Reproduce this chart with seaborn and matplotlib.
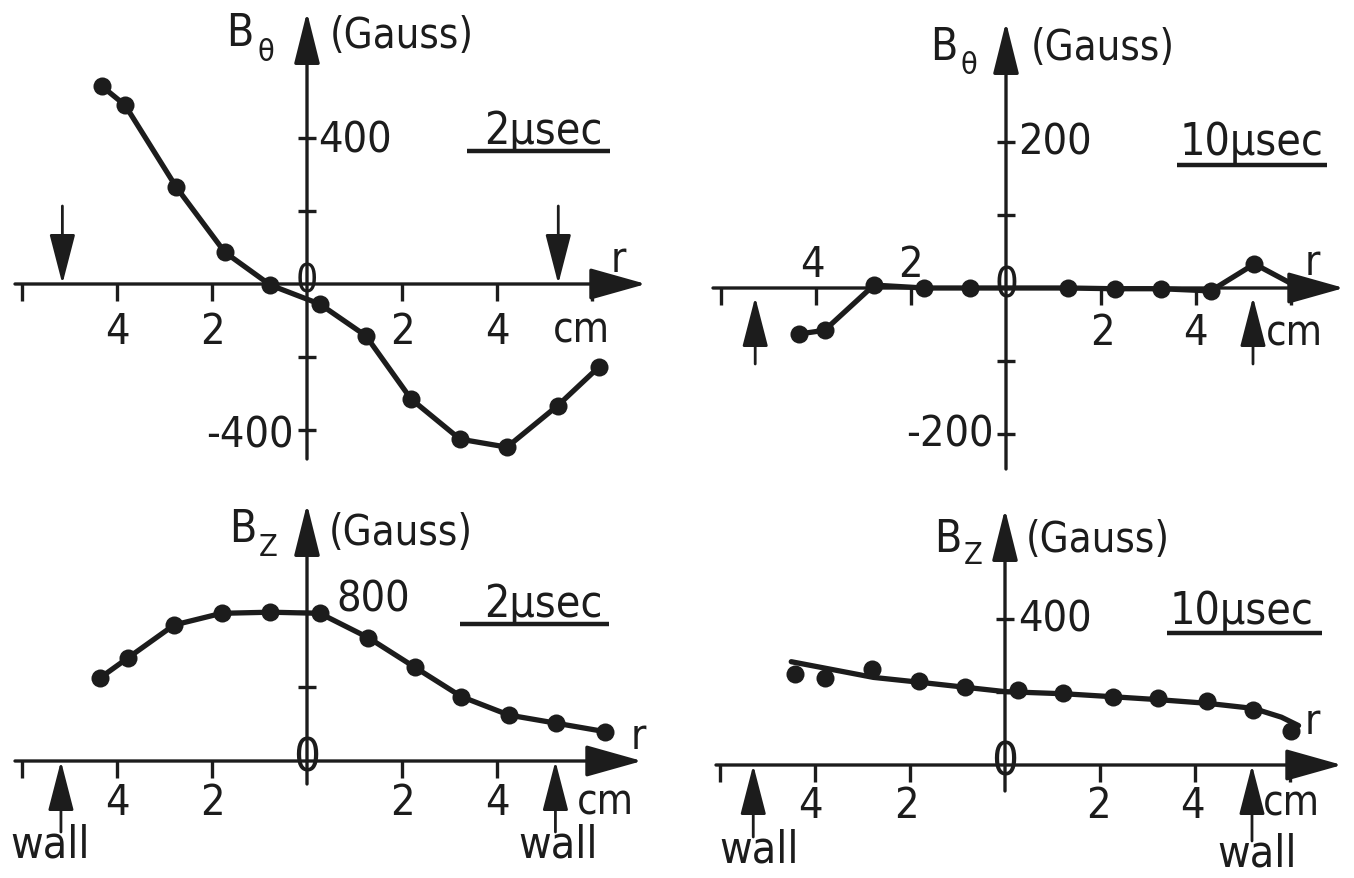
import matplotlib
matplotlib.use("Agg")
import matplotlib.pyplot as plt
import seaborn as sns

# ---------------- data ----------------
# top-left: B_theta at 2 usec
r_bt2 = [-4.32, -3.83, -2.75, -1.73, -0.77, 0.27, 1.24, 2.19, 3.22, 4.21, 5.28, 6.14]
b_bt2 = [542, 490, 265, 87, -3, -55, -142, -315, -425, -447, -333, -228]
# top-right: B_theta at 10 usec
r_bt10 = [-4.36, -3.82, -2.78, -1.72, -0.76, 1.30, 2.29, 3.26, 4.31, 5.23, 6.18]
b_bt10 = [-63, -58, 4, 0, 0, 0, -1, -1, -4, 33, 0]
# bottom-left: B_z at 2 usec
r_bz2 = [-4.35, -3.76, -2.80, -1.80, -0.77, 0.27, 1.29, 2.27, 3.25, 4.25, 5.25, 6.27]
b_bz2 = [448, 556, 731, 794, 800, 794, 663, 504, 346, 247, 203, 158]
# bottom-right: B_z at 10 usec (points and drawn fit curve)
r_bz10 = [-4.42, -3.79, -2.79, -1.82, -0.84, 0.27, 1.23, 2.27, 3.22, 4.25, 5.22, 6.03]
b_bz10 = [249, 237, 263, 231, 213, 205, 197, 187, 183, 175, 152, 94]
r_bz10_fit = [-4.50, -2.77, -1.82, -0.84, 0.0, 1.27, 2.27, 3.23, 4.26, 5.23, 5.82, 6.18]
b_bz10_fit = [283, 240, 227, 213, 201, 195, 187, 179, 169, 155, 131, 108]

xtick_labels = ["4", "2", "2", "4"]
xtick_vals = [-4, -2, 2, 4]
wall_r = {"tl": (-5.15, 5.29), "tr": (-5.28, 5.2), "bl": (-5.18, 5.23), "br": (-5.3, 5.2)}

# ---------------- style ----------------
sns.set_style("white")
plt.rcParams["font.family"] = ["DejaVu Sans"]
INK = "#1c1c1c"
W, H = 1354, 879
fig = plt.figure(figsize=(W / 100, H / 100), dpi=100)
fig.patch.set_facecolor("white")
SX = 47.5  # px per cm
NUM = 31     # numbers
GAU = 30     # "(Gauss)"
BSZ = 32     # "B"
SUB = 22     # subscript
SEC = 32     # "2µsec"
WALL = 32
CM = 30
LW = 3.8
MS = 13


class Panel:
    def __init__(self, x0, y0, sy, box):
        self.x0, self.y0, self.sy = x0, y0, sy
        l, t, r, b = box
        self.ax = fig.add_axes([l / W, 1 - b / H, (r - l) / W, (b - t) / H])
        self.ax.set_xlim((l - x0) / SX, (r - x0) / SX)
        self.ax.set_ylim((y0 - b) / sy, (y0 - t) / sy)
        self.ax.set_facecolor("none")
        for s in self.ax.spines.values():
            s.set_visible(False)
        self.ax.spines["left"].set_position(("data", 0))
        self.ax.spines["bottom"].set_position(("data", 0))

    def P(self, px, py):
        return ((px - self.x0) / SX, (self.y0 - py) / self.sy)

    def text(self, px, py, s, size=NUM, ha="center", va="center", **kw):
        x, y = self.P(px, py)
        self.ax.text(x, y, s, fontsize=size, ha=ha, va=va, color=INK,
                     fontstretch="condensed", clip_on=False, **kw)

    def arrow(self, p_from, p_to, lw=2.2, hl=1.5, hw=0.35, ms=20):
        self.ax.annotate("", xy=self.P(*p_to), xytext=self.P(*p_from),
                         arrowprops=dict(arrowstyle=f"-|>,head_length={hl},head_width={hw}",
                                         lw=lw, color=INK, shrinkA=0, shrinkB=0,
                                         mutation_scale=ms),
                         annotation_clip=False)

    def hline(self, px1, px2, py, lw=3.2):
        x1, y = self.P(px1, py)
        x2, _ = self.P(px2, py)
        self.ax.plot([x1, x2], [y, y], color=INK, lw=lw, solid_capstyle="butt")

    def axes_lines(self, xl, xr, yb, yt, xticks, yticks, zero_size):
        self.arrow((xl, self.y0), (xr, self.y0), lw=2.4, hl=1.6, hw=0.45, ms=22)
        self.arrow((self.x0, yb), (self.x0, yt), lw=2.4, hl=1.6, hw=0.4, ms=20)
        ax = self.ax
        ax.set_xticks(xticks)
        ax.set_yticks(yticks)
        ax.set_xticklabels([])
        ax.set_yticklabels([])
        ax.tick_params(axis="x", direction="out", length=12, width=2.4, color=INK,
                       bottom=True, top=False)
        ax.tick_params(axis="y", direction="inout", length=13, width=2.4, color=INK,
                       left=True, right=False)
        self.text(self.x0, self.y0 - 3, "0", size=zero_size)

    def wall(self, px, p_from, p_to):
        self.arrow((px, p_from), (px, p_to), lw=2.0, hl=1.55, hw=0.4, ms=20)


# ---------------- top-left ----------------
tl = Panel(307, 285, 0.365, (0, 0, 677, 479))
tl.axes_lines(15, 646, 460, 13, [-6, -4, -2, 2, 4, 6], [-400, -200, 200, 400], 28)
sns.lineplot(x=r_bt2, y=b_bt2, ax=tl.ax, color=INK, linewidth=LW, marker="o",
             markersize=MS, markeredgewidth=0, sort=False, estimator=None)
for v, s in zip(xtick_vals, xtick_labels):
    tl.text(tl.x0 + v * SX, 332, s)
tl.text(581, 331, "cm", size=CM)
tl.text(618, 260, "r", size=CM)
tl.text(318, 141, "400", ha="left")
tl.text(294, 436, "-400", ha="right")
tl.text(240, 34, "B", size=BSZ)
tl.text(266, 53, "θ", size=SUB)
tl.text(330, 36, "(Gauss)", size=GAU, ha="left")
tl.text(543, 132, "2µsec", size=SEC)
tl.hline(467, 610, 152)
for w in wall_r["tl"]:
    tl.wall(tl.x0 + w * SX, 207, 285)

# ---------------- top-right ----------------
tr = Panel(1006, 289, 0.73, (677, 0, 1354, 479))
tr.axes_lines(713, 1344, 470, 23, [-6, -4, -2, 2, 4, 6], [-200, -100, 100, 200], 30)
sns.lineplot(x=r_bt10, y=b_bt10, ax=tr.ax, color=INK, linewidth=LW, marker="o",
             markersize=MS, markeredgewidth=0, sort=False, estimator=None)
tr.text(812, 265, "4")
tr.text(910, 265, "2")
tr.text(1102, 333, "2")
tr.text(1195, 333, "4")
tr.text(1294, 334, "cm", size=CM)
tr.text(1312, 263, "r", size=CM)
tr.text(1018, 143, "200", ha="left")
tr.text(994, 435, "-200", ha="right")
tr.text(944, 48, "B", size=BSZ)
tr.text(969, 66, "θ", size=SUB)
tr.text(1031, 48, "(Gauss)", size=GAU, ha="left")
tr.text(1251, 143, "10µsec", size=SEC)
tr.hline(1177, 1327, 166)
for w in wall_r["tr"]:
    tr.wall(tr.x0 + w * SX, 365, 298)

# ---------------- bottom-left ----------------
bl = Panel(307, 762, 0.186, (0, 479, 677, 879))
bl.axes_lines(15, 642, 785, 505, [-6, -4, -2, 2, 4], [400, 800], 34)
sns.lineplot(x=r_bz2, y=b_bz2, ax=bl.ax, color=INK, linewidth=LW, marker="o",
             markersize=MS, markeredgewidth=0, sort=False, estimator=None)
for v, s in zip(xtick_vals, xtick_labels):
    bl.text(bl.x0 + v * SX, 803, s)
bl.text(605, 803, "cm", size=CM)
bl.text(638, 737, "r", size=CM)
bl.text(336, 600, "800", ha="left")
bl.text(243, 530, "B", size=BSZ)
bl.text(268, 548, "Z", size=SUB)
bl.text(329, 533, "(Gauss)", size=GAU, ha="left")
bl.text(543, 604, "2µsec", size=SEC)
bl.hline(460, 609, 625)
for w in wall_r["bl"]:
    bl.wall(bl.x0 + w * SX, 833, 762)
bl.text(50, 845, "wall", size=WALL)
bl.text(558, 845, "wall", size=WALL)

# ---------------- bottom-right ----------------
br = Panel(1005, 766, 0.365, (677, 479, 1354, 879))
br.axes_lines(716, 1342, 792, 510, [-6, -4, -2, 2, 4, 6], [200, 400], 34)
sns.lineplot(x=r_bz10_fit, y=b_bz10_fit, ax=br.ax, color=INK, linewidth=LW,
             sort=False, estimator=None)
sns.scatterplot(x=r_bz10, y=b_bz10, ax=br.ax, color=INK, s=MS ** 2, linewidth=0, zorder=3)
br.text(810, 806, "4")
br.text(906, 806, "2")
br.text(1098, 806, "2")
br.text(1192, 806, "4")
br.text(1291, 804, "cm", size=CM)
br.text(1312, 722, "r", size=CM)
br.text(1018, 620, "400", ha="left")
br.text(948, 540, "B", size=BSZ)
br.text(973, 556, "Z", size=SUB)
br.text(1026, 540, "(Gauss)", size=GAU, ha="left")
br.text(1242, 612, "10µsec", size=SEC)
br.hline(1167, 1322, 634)
for w in wall_r["br"]:
    tail = 838 if w < 0 else 842
    br.wall(br.x0 + w * SX, tail, 766)
br.text(759, 850, "wall", size=WALL)
br.text(1257, 854, "wall", size=WALL)

fig.savefig("out.png", dpi=100, facecolor="white")
